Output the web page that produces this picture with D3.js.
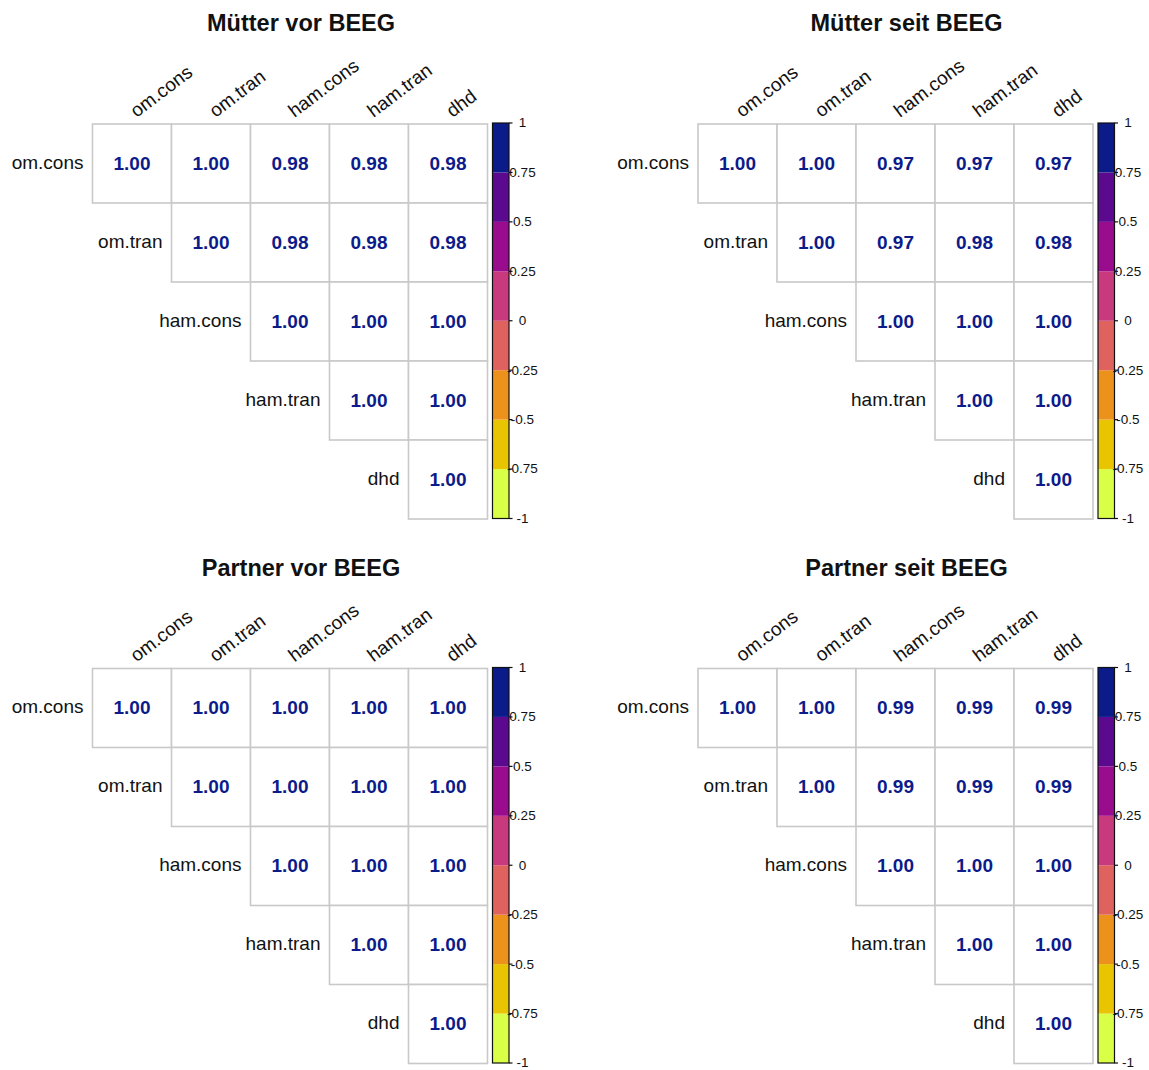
<!DOCTYPE html>
<html>
<head>
<meta charset="utf-8">
<script src="https://cdn.jsdelivr.net/npm/d3@7"></script>
<style>
  html, body { margin: 0; padding: 0; background: #ffffff; }
  svg { display: block; font-family: "Liberation Sans", Arial, Helvetica, sans-serif; }
</style>
</head>
<body>
<svg id="chart" width="1149" height="1070"></svg>
<script>
// Variables shown on both axes of every correlation matrix
const variables = ["om.cons", "om.tran", "ham.cons", "ham.tran", "dhd"];

// Upper-triangle correlations, row by row (row i starts at column i)
const muetterVor = [
  [1.00, 1.00, 0.98, 0.98, 0.98],
  [1.00, 0.98, 0.98, 0.98],
  [1.00, 1.00, 1.00],
  [1.00, 1.00],
  [1.00]
];
const muetterSeit = [
  [1.00, 1.00, 0.97, 0.97, 0.97],
  [1.00, 0.97, 0.98, 0.98],
  [1.00, 1.00, 1.00],
  [1.00, 1.00],
  [1.00]
];
const partnerVor = [
  [1.00, 1.00, 1.00, 1.00, 1.00],
  [1.00, 1.00, 1.00, 1.00],
  [1.00, 1.00, 1.00],
  [1.00, 1.00],
  [1.00]
];
const partnerSeit = [
  [1.00, 1.00, 0.99, 0.99, 0.99],
  [1.00, 0.99, 0.99, 0.99],
  [1.00, 1.00, 1.00],
  [1.00, 1.00],
  [1.00]
];

const panelTitles = ["Mütter vor BEEG", "Mütter seit BEEG", "Partner vor BEEG", "Partner seit BEEG"];
const panelData = [muetterVor, muetterSeit, partnerVor, partnerSeit];

// Colour bins of the legend, from -1 up to 1
const legendColors = ["#d9ff47", "#e8c500", "#ed911d", "#e0625f", "#c83a7d", "#9a0c8e", "#5b0a8f", "#0c1b8a"];
const legendTicks = [-1, -0.75, -0.5, -0.25, 0, 0.25, 0.5, 0.75, 1];
const legendTickLabels = ["-1", "-0.75", "-0.5", "-0.25", "0", "0.25", "0.5", "0.75", "1"];

const svg = d3.select("#chart");

const cell = 79;
const panelOrigins = [
  { x: 92.5, y: 124 },
  { x: 698, y: 124 },
  { x: 92.5, y: 668.5 },
  { x: 698, y: 668.5 }
];

const colorScale = d3.scaleQuantize().domain([-1, 1]).range(legendColors);

function drawPanel(g, title, rows, origin) {
  const band = d3.scaleBand().domain(variables).range([origin.x, origin.x + cell * variables.length]);
  const rowBand = d3.scaleBand().domain(variables).range([origin.y, origin.y + cell * variables.length]);

  // title
  g.append("text")
    .attr("x", origin.x + 208.5)
    .attr("y", origin.y - 93)
    .attr("text-anchor", "middle")
    .attr("font-size", 23.5)
    .attr("font-weight", "bold")
    .attr("fill", "#111")
    .text(title);

  // column labels, rotated
  g.selectAll(".collab").data(variables).enter().append("text")
    .attr("class", "collab")
    .attr("transform", d => `translate(${band(d) + band.bandwidth() / 2 + 4.5},${origin.y - 6}) rotate(-37)`)
    .attr("font-size", 19)
    .attr("fill", "#111")
    .text(d => d);

  // cells
  const cells = [];
  rows.forEach((row, i) => {
    row.forEach((v, k) => {
      cells.push({ r: variables[i], c: variables[i + k], v });
    });
  });

  g.selectAll(".cell").data(cells).enter().append("rect")
    .attr("class", "cell")
    .attr("x", d => band(d.c))
    .attr("y", d => rowBand(d.r))
    .attr("width", band.bandwidth())
    .attr("height", rowBand.bandwidth())
    .attr("fill", "#fff")
    .attr("stroke", "#c9c9c9")
    .attr("stroke-width", 1.6);

  g.selectAll(".val").data(cells).enter().append("text")
    .attr("class", "val")
    .attr("x", d => band(d.c) + band.bandwidth() / 2)
    .attr("y", d => rowBand(d.r) + rowBand.bandwidth() / 2 + 6)
    .attr("text-anchor", "middle")
    .attr("font-size", 19)
    .attr("font-weight", "bold")
    .attr("fill", d => colorScale(d.v))
    .text(d => d.v.toFixed(2));

  // row labels next to the diagonal
  g.selectAll(".rowlab").data(variables).enter().append("text")
    .attr("class", "rowlab")
    .attr("x", d => band(d) - 9)
    .attr("y", d => rowBand(d) + rowBand.bandwidth() / 2 + 5)
    .attr("text-anchor", "end")
    .attr("font-size", 19)
    .attr("fill", "#111")
    .text(d => d);

  // colour legend
  const barX = origin.x + 400;
  const barW = 16.5;
  const ly = d3.scaleLinear().domain([-1, 1]).range([origin.y + cell * 5 - 0.5, origin.y - 1]);
  const step = 2 / legendColors.length;
  g.selectAll(".bin").data(legendColors).enter().append("rect")
    .attr("class", "bin")
    .attr("x", barX)
    .attr("y", (d, i) => ly(-1 + (i + 1) * step))
    .attr("width", barW)
    .attr("height", (d, i) => ly(-1 + i * step) - ly(-1 + (i + 1) * step))
    .attr("fill", d => d);
  g.append("rect")
    .attr("x", barX).attr("y", ly(1))
    .attr("width", barW).attr("height", ly(-1) - ly(1))
    .attr("fill", "none").attr("stroke", "#111").attr("stroke-width", 1.2);

  g.selectAll(".ltick").data(legendTicks).enter().append("line")
    .attr("class", "ltick")
    .attr("x1", barX + barW).attr("x2", barX + barW + 3.5)
    .attr("y1", d => ly(d)).attr("y2", d => ly(d))
    .attr("stroke", "#111").attr("stroke-width", 1.2);

  g.selectAll(".llab").data(legendTicks).enter().append("text")
    .attr("class", "llab")
    .attr("x", origin.x + 430)
    .attr("y", d => ly(d) + 4.4)
    .attr("text-anchor", "middle")
    .attr("font-size", 13.5)
    .attr("fill", "#111")
    .text((d, i) => legendTickLabels[i]);
}

panelTitles.forEach((t, i) => {
  drawPanel(svg.append("g"), t, panelData[i], panelOrigins[i]);
});
</script>
</body>
</html>
